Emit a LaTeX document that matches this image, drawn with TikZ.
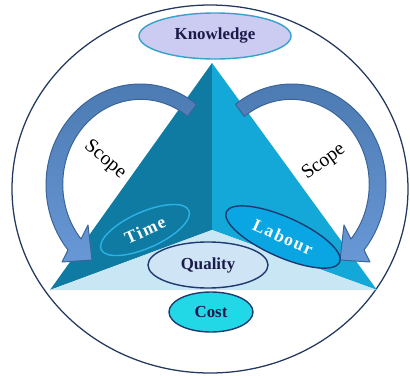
\documentclass[tikz,border=0pt]{standalone}
\usepackage{fontspec}
\setmainfont{Liberation Serif}
\usetikzlibrary{shapes.geometric}
\definecolor{rimblue}{HTML}{22385E}
\definecolor{faceL}{HTML}{0F7BA3}
\definecolor{faceR}{HTML}{14A8D8}
\definecolor{faceB}{HTML}{C8E6F4}
\definecolor{arrowtop}{HTML}{4A78AF}
\definecolor{arrowbot}{HTML}{6898D6}
\definecolor{arrowedge}{HTML}{3A6497}
\definecolor{ink}{HTML}{1B1B4B}
\definecolor{navy}{HTML}{1E3A70}
\definecolor{knowfill}{HTML}{CCCBF2}
\definecolor{knowedge}{HTML}{36A2CA}
\definecolor{timeedge}{HTML}{2CB3E6}
\definecolor{labourfill}{HTML}{0AA6E4}
\definecolor{qualfill}{HTML}{CFE5F6}
\definecolor{costfill}{HTML}{22D8E6}

\begin{document}
\begin{tikzpicture}[x=0.025cm,y=-0.025cm,line join=round,
  oval/.style={ellipse,draw,line width=1pt,inner sep=0pt,font=\fontsize{12}{14}\selectfont\bfseries},
  spaced/.style={font=\fontsize{12.5}{14}\selectfont\bfseries\addfontfeature{LetterSpace=8}},
  scopearrow/.style={top color=arrowtop,bottom color=arrowbot,draw=arrowedge,line width=0.7pt},
  scopelabel/.style={font=\fontsize{14}{16}\selectfont}]
\useasboundingbox (0,0) rectangle (410,376);
\draw[rimblue,line width=0.9pt] (210,189) ellipse [x radius=198,y radius=184];
% pyramid
\coordinate (apex) at (212,63);
\coordinate (front) at (212,230);
\coordinate (baseL) at (50,290);
\coordinate (baseR) at (377,290);
\fill[faceL] (apex) -- (baseL) -- (front) -- cycle;
\fill[faceR] (apex) -- (front) -- (baseR) -- cycle;
\fill[faceB] (baseL) -- (front) -- (baseR) -- cycle;
% curved arrows, the right one mirrored
\foreach \s in {1,-1}
{\begin{scope}[shift={(216,0)},xscale=\s]
\draw[scopearrow] (-76,185) ++(-53:94 and 101)
  arc[start angle=-53,end angle=-220,x radius=94,y radius=101]
  -- (-154,262) -- (-124,260) -- (-128,225) -- (-135,239)
  arc[start angle=-220,end angle=-53,x radius=78,y radius=85] -- cycle;
\end{scope}}
\node[scopelabel,rotate=-40] (scopeL) at (105,160) {Scope};
\node[scopelabel,rotate=36] (scopeR) at (324,162) {Scope};
\node[oval,fill=knowfill,draw=knowedge,text=ink,minimum width=3.8cm,minimum height=1.15cm] (know) at (215,36) {Knowledge};
\node[oval,spaced,fill=faceL,draw=timeedge,text=white,rotate=24,minimum width=2.4cm,minimum height=0.9cm] (time) at (145,230) {Time};
\node[oval,spaced,fill=labourfill,draw=navy,text=white,rotate=-24,minimum width=3.1cm,minimum height=1cm] (labour) at (283,237) {Labour};
\node[oval,fill=qualfill,draw=navy,text=ink,minimum width=3cm,minimum height=1.15cm] (quality) at (208,265) {Quality};
\node[oval,fill=costfill,draw=navy,text=ink,minimum width=2.1cm,minimum height=1cm] (cost) at (211,312) {Cost};
\end{tikzpicture}
\end{document}
